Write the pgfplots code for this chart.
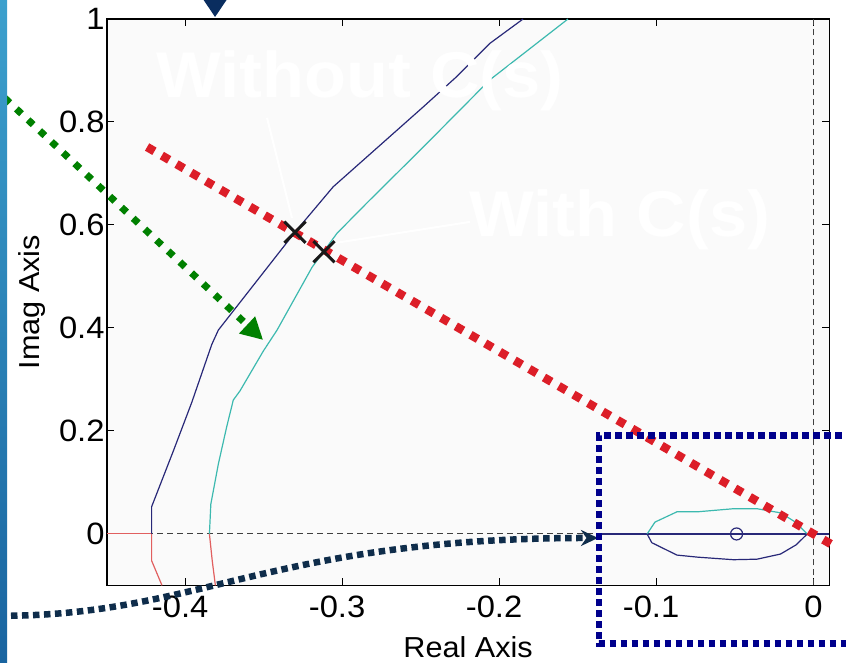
\documentclass[border=0pt]{standalone}
\usepackage{fontspec}
\setmainfont{Liberation Sans}[FakeStretch=1.06]
\usepackage{pgfplots}
\pgfplotsset{compat=1.18}
\usetikzlibrary{arrows.meta}
\definecolor{navyline}{RGB}{40,40,120}
\definecolor{cyanline}{RGB}{60,185,175}
\definecolor{redbranch}{RGB}{225,95,95}
\definecolor{dampred}{RGB}{220,30,40}
\definecolor{arrgreen}{RGB}{0,128,0}
\definecolor{arrnavy}{RGB}{15,45,75}
\definecolor{trinavy}{RGB}{10,45,95}
\definecolor{boxblue}{RGB}{0,0,140}
\definecolor{bartop}{RGB}{60,160,205}
\definecolor{barbot}{RGB}{25,100,160}
\newcommand{\tickfont}{\fontsize{31}{33}\selectfont}
\begin{document}
\begin{tikzpicture}
\begin{axis}[
  x=1570bp, y=515bp,
  xmin=-0.45, xmax=0.01, ymin=-0.1, ymax=1,
  clip=false,
  axis background/.style={fill=black!2},
  tick align=inside, major tick length=7bp,
  xtick={-0.4,-0.3,-0.2,-0.1,0},
  xticklabels={\llap{-}0.4,\llap{-}0.3,\llap{-}0.2,\llap{-}0.1,0},
  ytick={0,0.2,0.4,0.6,0.8,1},
  yticklabels={0,0.2,0.4,0.6,0.8,1},
  tick label style={font=\tickfont},
  xticklabel style={font=\tickfont, yshift=-6.5bp},
  yticklabel style={font=\tickfont, xshift=1bp},
  xlabel={Real Axis}, ylabel={Imag Axis},
  label style={font=\fontsize{29}{31}\selectfont},
  xlabel style={at={(axis description cs:0.5,-0.1265)}, anchor=base},
  ylabel style={at={(axis description cs:-0.1037,0.5)}, anchor=center},
  axis line style={line width=1.2bp},
  tick style={line width=1bp, black},
]
% image frame coordinates
\coordinate (imgBL) at (axis cs:-0.5182,-0.2505);
\coordinate (imgTR) at (axis cs:0.0207,1.0369);
% dashed MATLAB axis lines
\addplot[black!75, line width=1bp, dash pattern=on 6bp off 4bp] coordinates {(-0.45,0) (0.01,0)};
\addplot[black!75, line width=1bp, dash pattern=on 6bp off 4bp] coordinates {(0,-0.1) (0,1)};
% real-axis branches
\addplot[redbranch, line width=1bp] coordinates {(-0.45,0) (-0.4216,0)};
\addplot[navyline, line width=1.2bp] coordinates {(-0.137,0) (0.01,0)};
% without C(s)
\addplot[navyline, line width=1.2bp] coordinates {
 (-0.4216,0) (-0.4216,0.053) (-0.4078,0.161) (-0.3961,0.255) (-0.3833,0.368)
 (-0.3791,0.396) (-0.3303,0.586) (-0.306,0.674) (-0.2487,0.829)
 (-0.2277,0.887) (-0.206,0.953) (-0.185,1.0)};
\addplot[redbranch, line width=1.2bp] coordinates {(-0.4216,0) (-0.4216,-0.052) (-0.415,-0.1)};
% with C(s)
\addplot[cyanline, line width=1.2bp] coordinates {
 (-0.3848,0) (-0.3839,0.058) (-0.3791,0.136) (-0.3738,0.208) (-0.3696,0.260)
 (-0.3653,0.278) (-0.3505,0.355) (-0.3417,0.396) (-0.3194,0.518)
 (-0.3035,0.584) (-0.2844,0.643) (-0.2487,0.751) (-0.2061,0.882) (-0.1564,1.0)};
\addplot[redbranch, line width=1.2bp] coordinates {(-0.3848,0) (-0.383,-0.052) (-0.381,-0.1)};
% small loop near origin
\addplot[cyanline, line width=1.2bp] coordinates {
 (-0.106,0) (-0.101,0.023) (-0.087,0.043) (-0.074,0.043) (-0.051,0.049)
 (-0.036,0.049) (-0.021,0.041) (-0.0115,0.023) (-0.004,0)};
\addplot[navyline, line width=1.2bp] coordinates {
 (-0.106,0) (-0.103,-0.017) (-0.087,-0.041) (-0.074,-0.045) (-0.051,-0.050)
 (-0.036,-0.049) (-0.021,-0.039) (-0.011,-0.021) (-0.004,0)};
\addplot[navyline, only marks, mark=o, mark size=6bp, mark options={line width=1.2bp}] coordinates {(-0.049,0)};
% damping line
\addplot[dampred, line width=8.5bp, dash pattern=on 8.5bp off 8.5bp] coordinates {(-0.4245,0.7514) (0.013,-0.023)};
% operating points
\addplot[black!90, only marks, mark=x, mark size=15bp, mark options={line width=3bp}] coordinates {(-0.3303,0.586) (-0.3118,0.548)};
% white annotation text and leader lines
\draw[white, line width=2bp] (axis cs:-0.3481,0.808) -- (axis cs:-0.3322,0.6136);
\draw[white, line width=2bp] (axis cs:-0.3048,0.565) -- (axis cs:-0.2188,0.606);
\node[white, font=\bfseries\fontsize{65}{68}\selectfont, anchor=base] at (axis cs:-0.2889,0.8485) {Without C(s)};
\node[white, font=\bfseries\fontsize{65}{68}\selectfont, anchor=base] at (axis cs:-0.1233,0.5767) {With C(s)};
% green arrow
\draw[arrgreen, line width=7bp, dash pattern=on 7bp off 9bp, -{Triangle[length=22bp,width=22bp]}]
  (axis cs:-0.5152,0.8466) -- (axis cs:-0.3506,0.3767);
% navy curved arrow
\draw[arrnavy, line width=6.5bp, dash pattern=on 6.5bp off 4.5bp, -{Stealth[length=17bp,width=16bp]}]
  (axis cs:-0.5182,-0.159) .. controls (axis cs:-0.3908,-0.159) and (axis cs:-0.3462,-0.0078) .. (axis cs:-0.1373,-0.0078);
% blue dotted box
\draw[boxblue, line width=6.5bp, dash pattern=on 6.5bp off 4.5bp]
  (axis cs:0.06,0.1916) -- (axis cs:-0.1367,0.1916) -- (axis cs:-0.1367,-0.2130) -- (axis cs:0.06,-0.2130);
% top triangle
\fill[trinavy] (axis cs:-0.3914,1.05) -- (axis cs:-0.371,1.05) -- (axis cs:-0.3812,1.0039) -- cycle;
% left bar
\shade[top color=bartop, bottom color=barbot] (axis cs:-0.5182,-0.2505) rectangle (axis cs:-0.5137,1.0369);
\end{axis}
\pgfresetboundingbox
\useasboundingbox (imgBL) rectangle (imgTR);
\end{tikzpicture}
\end{document}
